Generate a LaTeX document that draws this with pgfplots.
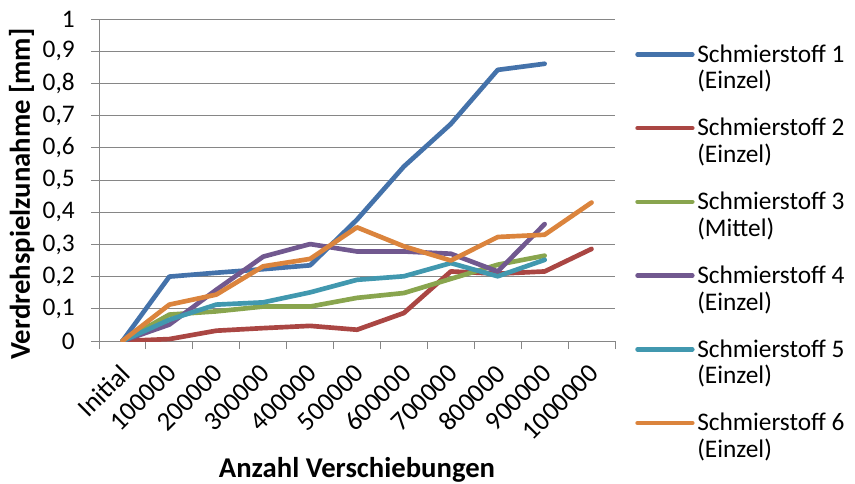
\documentclass[border=0pt]{standalone}
\usepackage{fontspec}
\setmainfont{Carlito}
\usepackage{pgfplots}
\pgfplotsset{compat=1.18}
\definecolor{c1}{RGB}{68,114,170}
\definecolor{c2}{RGB}{170,70,67}
\definecolor{c3}{RGB}{137,165,78}
\definecolor{c4}{RGB}{113,88,143}
\definecolor{c5}{RGB}{65,152,175}
\definecolor{c6}{RGB}{219,132,61}
\definecolor{gridc}{RGB}{134,134,134}
\begin{document}
\begin{tikzpicture}[font=\fontsize{19}{20}\selectfont]
\path[use as bounding box] (0,0) rectangle (641.25pt,362.25pt);
\begin{axis}[
  at={(74.25pt,106.5pt)}, anchor=south west,
  scale only axis, width=387pt, height=241.5pt,
  xmin=-0.5, xmax=10.5, ymin=0, ymax=1,
  axis lines*=left,
  axis line style={draw=gridc, line width=0.75pt},
  xtick={-0.5,0.5,...,10.5},
  x tick label as interval,
  xticklabels={Initial,100000,200000,300000,400000,500000,600000,700000,800000,900000,1000000,},
  ytick={0,0.1,0.2,0.3,0.4,0.5,0.6,0.7,0.8,0.9,1},
  /pgf/number format/use comma,
  /pgf/number format/assume math mode=true,
  ymajorgrids,
  grid style={draw=gridc, line width=0.75pt},
  tick align=outside, major tick length=6pt,
  tick style={draw=gridc, line width=0.75pt},
  xticklabel style={font=\fontsize{20}{20}\selectfont, anchor=north east, inner sep=0pt, xshift=-3pt, yshift=-10pt, rotate=45},
  yticklabel style={anchor=east, inner sep=0pt, xshift=-12pt},
  ylabel={\fontsize{21.5}{24}\selectfont\bfseries Verdrehspielzunahme [mm]},
  ylabel style={at={(axis description cs:-0.15,0.4565)}, anchor=center, rotate=0},
  xlabel={\fontsize{21.5}{24}\selectfont\bfseries Anzahl Verschiebungen},
  xlabel style={at={(axis description cs:0.5,-0.40)}, anchor=center},
  legend cell align=left,
  legend style={at={(1,1)}, anchor=north west, xshift=15pt, yshift=-17pt, draw=none, fill=none,
    cells={align=left}, row sep=16.6pt, inner sep=0pt},
  legend image code/.code={\draw[#1] (0pt,10pt) -- (41pt,10pt);},
  every axis plot/.append style={line width=3.5pt, line join=round, line cap=round},
]
\addplot[c1] coordinates {(0,0)(1,0.200)(2,0.212)(3,0.223)(4,0.235)(5,0.377)(6,0.542)(7,0.674)(8,0.842)(9,0.861)};
\addlegendentry{Schmierstoff 1\\(Einzel)}
\addplot[c2] coordinates {(0,0)(1,0.006)(2,0.032)(3,0.040)(4,0.047)(5,0.035)(6,0.087)(7,0.216)(8,0.209)(9,0.216)(10,0.286)};
\addlegendentry{Schmierstoff 2\\(Einzel)}
\addplot[c3] coordinates {(0,0)(1,0.082)(2,0.092)(3,0.107)(4,0.107)(5,0.134)(6,0.149)(7,0.193)(8,0.237)(9,0.265)};
\addlegendentry{Schmierstoff 3\\(Mittel)}
\addplot[c4] coordinates {(0,0)(1,0.051)(2,0.159)(3,0.262)(4,0.301)(5,0.278)(6,0.278)(7,0.271)(8,0.216)(9,0.363)};
\addlegendentry{Schmierstoff 4\\(Einzel)}
\addplot[c5] coordinates {(0,0)(1,0.066)(2,0.113)(3,0.120)(4,0.151)(5,0.190)(6,0.201)(7,0.242)(8,0.201)(9,0.252)};
\addlegendentry{Schmierstoff 5\\(Einzel)}
\addplot[c6] coordinates {(0,0)(1,0.113)(2,0.144)(3,0.232)(4,0.255)(5,0.353)(6,0.294)(7,0.250)(8,0.323)(9,0.330)(10,0.430)};
\addlegendentry{Schmierstoff 6\\(Einzel)}
\end{axis}
\end{tikzpicture}
\end{document}
